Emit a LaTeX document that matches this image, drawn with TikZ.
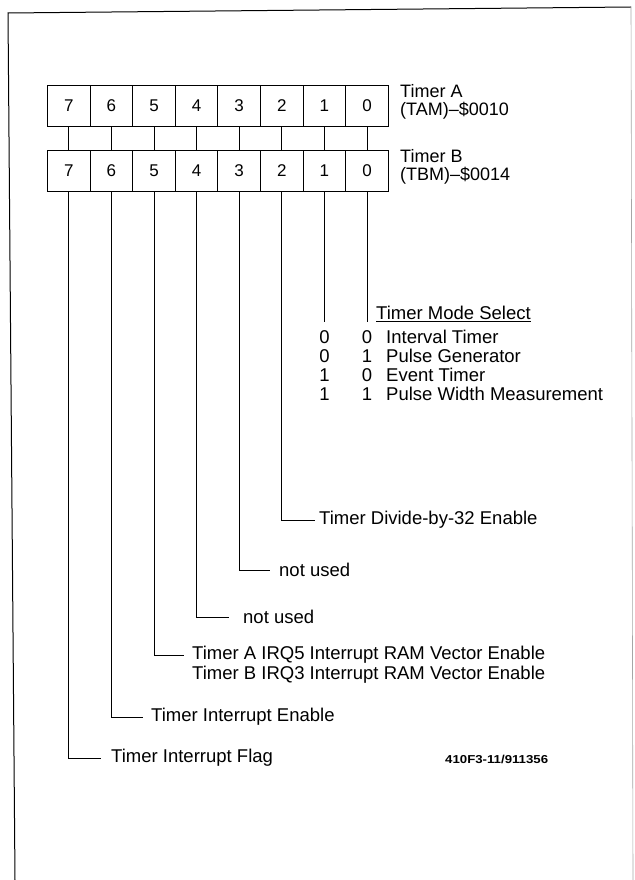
\documentclass[tikz,border=0pt]{standalone}
\usepackage{fontspec}
\setmainfont{Liberation Sans}
\newfontfamily\figfont[FakeStretch=1.15]{Liberation Sans}
\begin{document}
\begin{tikzpicture}[x=1pt,y=-1pt,
  cell/.style={draw,line width=1pt,minimum width=42.6pt,minimum height=41pt,inner sep=0pt,anchor=north west,font=\fontsize{17}{17}\selectfont},
  wire/.style={line width=1pt},
  lbl/.style={anchor=west,inner sep=0pt,font=\fontsize{18.5}{20}\selectfont},
  bits/.style={anchor=center,inner sep=0pt,font=\fontsize{18.5}{20}\selectfont},
  reg/.style={anchor=west,inner sep=0pt,align=left,font=\fontsize{18}{18}\selectfont},
  fig/.style={anchor=west,inner sep=0pt,font=\figfont\bfseries\fontsize{11.5}{13}\selectfont}]
\useasboundingbox (0,0) rectangle (634,880);
% frame
\draw[line width=1pt] (15,880) -- (8,13) -- (631,7);
\draw[line width=0.6pt,black!35] (631,7) -- (633,880);
% registers
\foreach \b [count=\i from 0] in {7,6,5,4,3,2,1,0} {
  \node[cell] (a\b) at (47+42.6*\i,85) {\b};
  \node[cell] (b\b) at (47+42.6*\i,150) {\b};
  \draw[wire] (a\b.south) -- (b\b.north);
}
\node[reg] (ta) at (400,101.5) {Timer A\\(TAM)--\$0010};
\node[reg] (tb) at (400,167) {Timer B\\(TBM)--\$0014};
% mode select
\coordinate (e1) at (b1.south |- 0,322);
\coordinate (e0) at (b0.south |- 0,322);
\draw[wire] (b1.south) -- (e1);
\draw[wire] (b0.south) -- (e0);
\node[lbl] (ms) at (376,314) {\underline{Timer Mode Select}};
\foreach \l/\r/\t [count=\k from 0] in {0/0/Interval Timer,0/1/Pulse Generator,1/0/Event Timer,1/1/Pulse Width Measurement} {
  \node[bits] (l\k) at (e1 |- 0,337+19*\k) {\l};
  \node[bits] (r\k) at (e0 |- 0,337+19*\k) {\r};
  \node[lbl] (t\k) at (386,337+19*\k) {\t};
}
% labels
\node[lbl] (d2) at (319,520) {Timer Divide-by-32 Enable};
\node[lbl] (d3) at (279,570) {not used};
\node[lbl] (d4) at (243,617) {not used};
\node[lbl] (d5) at (192,655) {Timer A IRQ5 Interrupt RAM Vector Enable};
\node[lbl] (d5b) at (192,675) {Timer B IRQ3 Interrupt RAM Vector Enable};
\node[lbl] (d6) at (151,717) {Timer Interrupt Enable};
\node[lbl] (d7) at (111,758) {Timer Interrupt Flag};
\node[fig] (fn) at (445,759) {410F3-11/911356};
\foreach \b/\n/\g in {2/d2/4,3/d3/9,4/d4/14,5/d5/8,6/d6/8,7/d7/10} {
  \coordinate (h\b) at ([xshift=-\g pt]\n.west);
  \draw[wire] (b\b.south) |- (h\b);
}
\end{tikzpicture}
\end{document}
